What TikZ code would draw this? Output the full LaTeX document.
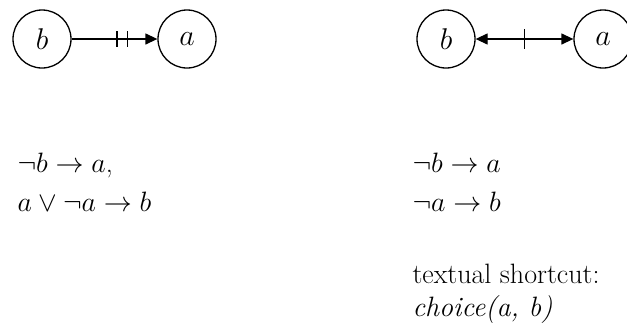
\RequirePackage{fix-cm}
\documentclass[tikz,border=0pt]{standalone}
\usepackage{amsmath}
\usetikzlibrary{arrows.meta, calc}
\tikzset{
  atom/.style={circle, draw, line width=1.3pt, minimum size=58pt, inner sep=0pt, font=\fontsize{30}{34}\selectfont},
  link/.style={line width=1.3pt},
  tip/.tip={Triangle[length=12pt,width=11pt]},
  formula/.style={anchor=base west, font=\fontsize{28}{32}\selectfont}
}
\begin{document}
\begin{tikzpicture}[x=1pt,y=-1pt]
\useasboundingbox (0,0) rectangle (627,322);
% Left: b requires a
\node[atom] (b1) at (42,39) {$b$};
\node[atom] (a1) at (187,39) {$a$};
\draw[link,-tip] (b1) -- (a1);
\draw[link] ($(b1.east)!0.53!(a1.west)$) ++(0,-8) -- ++(0,16);
\draw[link] ($(b1.east)!0.655!(a1.west)$) ++(0,-8) -- ++(0,16);

% Right: choice between a and b
\node[atom] (b2) at (446,39) {$b$};
\node[atom] (a2) at (603,39) {$a$};
\draw[link,tip-tip] (b2) -- (a2);
\draw[link] ($(b2.east)!0.5!(a2.west)$) ++(0,-10) -- ++(0,20);

% Formulas
\node[formula] (f1) at (14,172) {$\neg b \to a$,};
\node[formula] (f2) at (14,211) {$a \lor \neg a \to b$};
\node[formula] (g1) at (409,172) {$\neg b \to a$};
\node[formula] (g2) at (409,211) {$\neg a \to b$};
\node[formula] (t1) at (409,283) {textual shortcut:};
\node[formula] (t2) at (409,316) {\textit{choice(a, b)}};
\end{tikzpicture}
\end{document}
